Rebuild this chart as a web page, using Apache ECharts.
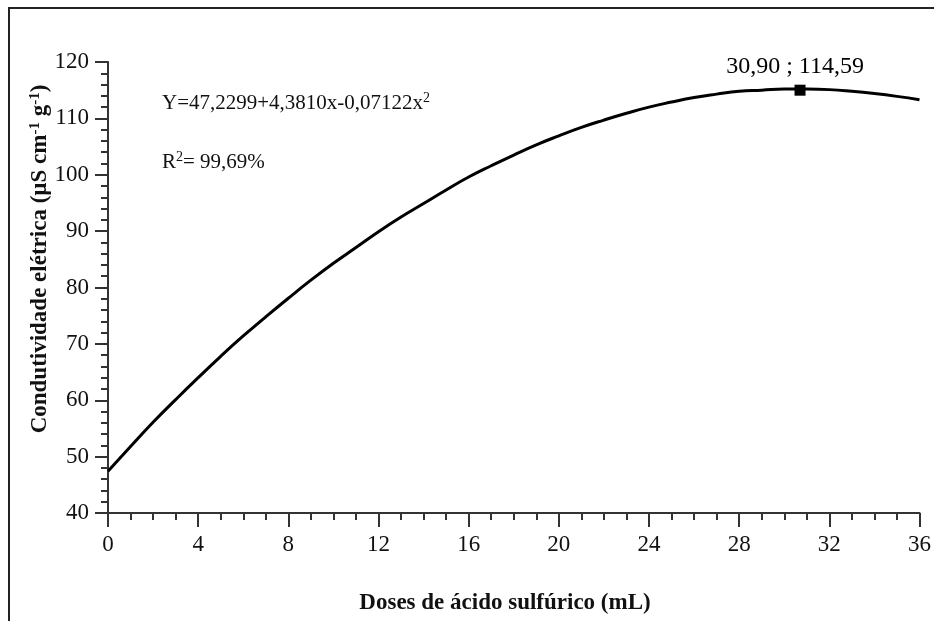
<!DOCTYPE html>
<html>
<head>
<meta charset="utf-8">
<script src="https://cdn.jsdelivr.net/npm/echarts@6/dist/echarts.min.js"></script>
<style>
  html, body { margin: 0; padding: 0; background: #fff; }
  #chart { width: 934px; height: 621px; }
</style>
</head>
<body>
<div id="chart"></div>
<script>
// doses (mL) and conductivity
var doses = [0, 1, 2, 3, 4, 5, 6, 7, 8, 9, 10, 11, 12, 13, 14, 15, 16, 17, 18,
             19, 20, 21, 22, 23, 24, 25, 26, 27, 28, 29, 30, 31, 32, 33, 34, 35, 36];
var conductivity = [47.4, 51.8, 56.1, 60.1, 64.0, 67.8, 71.4, 74.8, 78.1, 81.3, 84.3,
                    87.1, 89.9, 92.5, 94.9, 97.3, 99.6, 101.6, 103.5, 105.3, 106.9,
                    108.4, 109.7, 110.9, 112.0, 112.9, 113.7, 114.3, 114.8, 115.0,
                    115.2, 115.2, 115.1, 114.8, 114.4, 113.9, 113.3];
var peak = [30.7, 115.0];
var peakLabel = '30,90 ; 114,59';
var xTicks = [0, 4, 8, 12, 16, 20, 24, 28, 32, 36];
var yTicks = [40, 50, 60, 70, 80, 90, 100, 110, 120];

var font = '"Liberation Serif", "Times New Roman", serif';
var ink = '#111';

var chart = echarts.init(document.getElementById('chart'));

var curve = doses.map(function(d, i) { return [d, conductivity[i]]; });

var supRich = function(size, supSize, weight, raise) {
  return {
    n: { fontFamily: font, fontSize: size, fontWeight: weight, fill: ink, lineHeight: size + 6 },
    s: { fontFamily: font, fontSize: supSize, fontWeight: weight, fill: ink, padding: [0, 0, raise, 0], lineHeight: size + 6 }
  };
};

chart.setOption({
  animation: false,
  backgroundColor: '#fff',
  grid: { left: 108, top: 62, right: 11, bottom: 108 },
  xAxis: {
    type: 'value',
    min: xTicks[0],
    max: xTicks[xTicks.length - 1],
    interval: 4,
    axisLine: { show: true, lineStyle: { color: '#333', width: 2 } },
    axisTick: { show: true, inside: false, length: 14, lineStyle: { color: '#333', width: 2 } },
    minorTick: { show: true, splitNumber: 4, length: 7, lineStyle: { color: '#333', width: 2 } },
    axisLabel: { fontFamily: font, fontSize: 23, color: ink, margin: 20 },
    splitLine: { show: false }
  },
  yAxis: {
    type: 'value',
    min: yTicks[0],
    max: yTicks[yTicks.length - 1],
    interval: 10,
    axisLine: { show: true, lineStyle: { color: '#333', width: 2 } },
    axisTick: { show: true, inside: false, length: 13, lineStyle: { color: '#333', width: 2 } },
    minorTick: { show: true, splitNumber: 5, length: 7, lineStyle: { color: '#333', width: 2 } },
    axisLabel: { fontFamily: font, fontSize: 23, color: ink, margin: 19 },
    splitLine: { show: false }
  },
  graphic: [
    {
      type: 'rect',
      silent: true,
      shape: { x: 9, y: 8, width: 950, height: 650 },
      style: { fill: 'none', stroke: '#222', lineWidth: 2 }
    },
    {
      // y axis title
      type: 'text',
      x: 40, y: 259,
      rotation: Math.PI / 2,
      style: {
        text: '{n|Condutividade elétrica (µS cm}{s|-1}{n| g}{s|-1}{n|)}',
        rich: supRich(23, 15, 'bold', 10),
        align: 'center',
        verticalAlign: 'middle'
      }
    },
    {
      // x axis title
      type: 'text',
      x: 505, y: 603,
      style: {
        text: 'Doses de ácido sulfúrico (mL)',
        fontFamily: font, fontSize: 23, fontWeight: 'bold', fill: ink,
        align: 'center',
        verticalAlign: 'middle'
      }
    },
    {
      type: 'text',
      x: 162, y: 103,
      style: {
        text: '{n|Y=47,2299+4,3810x-0,07122x}{s|2}',
        rich: supRich(21, 14, 'normal', 10),
        verticalAlign: 'middle'
      }
    },
    {
      type: 'text',
      x: 162, y: 162,
      style: {
        text: '{n|R}{s|2}{n|= 99,69%}',
        rich: supRich(21, 14, 'normal', 10),
        verticalAlign: 'middle'
      }
    }
  ],
  series: [
    {
      type: 'line',
      data: curve,
      smooth: true,
      showSymbol: false,
      lineStyle: { color: '#000', width: 3 },
      z: 2
    },
    {
      type: 'scatter',
      data: [peak],
      symbol: 'rect',
      symbolSize: 11,
      itemStyle: { color: '#000', opacity: 1 },
      label: {
        show: true,
        position: 'top',
        distance: 6,
        offset: [-5, 0],
        formatter: peakLabel,
        fontFamily: font,
        fontSize: 24,
        color: '#000',
        textBorderWidth: 0
      },
      z: 3
    }
  ]
});
</script>
</body>
</html>
